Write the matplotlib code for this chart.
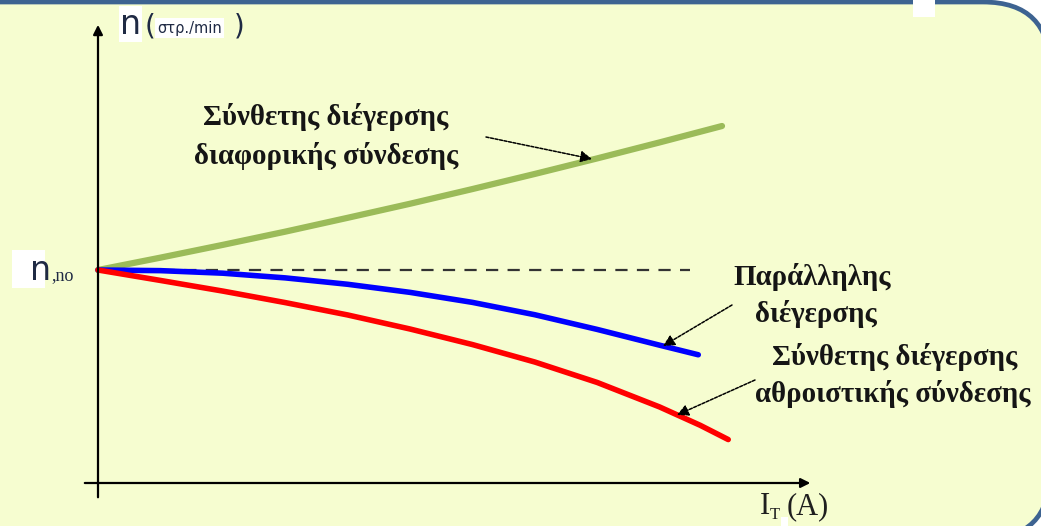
import numpy as np
import matplotlib
matplotlib.use("Agg")
import matplotlib.pyplot as plt
from matplotlib.patches import FancyBboxPatch, Rectangle

# ---- data (I in arbitrary units, n normalised to n0 = 1) ----
I_green = [0, 1, 2, 3, 4, 5, 6, 7, 8, 9, 10]
n_green = [1.000, 1.058, 1.118, 1.180, 1.245, 1.311, 1.380, 1.451, 1.524, 1.599, 1.676]

I_blue = [0, 1, 2, 3, 4, 5, 6, 7, 8, 9, 9.62]
n_blue = [1.000, 0.997, 0.985, 0.963, 0.933, 0.895, 0.848, 0.790, 0.721, 0.647, 0.602]

I_red = [0, 1, 2, 3, 4, 5, 6, 7, 8, 9, 9.65, 10.1]
n_red = [1.000, 0.951, 0.901, 0.847, 0.789, 0.723, 0.650, 0.568, 0.472, 0.357, 0.271, 0.204]

n0 = 1.0
I_dash_end = 9.49

W, H = 1041, 526
fig = plt.figure(figsize=(W / 100, H / 100), dpi=100)
fig.patch.set_facecolor("white")

# background panel (pixel coords)
bg = fig.add_axes([0, 0, 1, 1])
bg.set_xlim(0, W)
bg.set_ylim(H, 0)
bg.axis("off")
panel = FancyBboxPatch((-100, 2), 1150, 537, boxstyle="round,pad=0,rounding_size=67",
                       fc="#F6FDD0", ec="#3D6391", lw=3.4)
bg.add_patch(panel)
bg.add_patch(Rectangle((913, 0), 22, 17, fc="white", ec="none"))
bg.add_patch(Rectangle((12, 250), 33, 38, fc="white", ec="none"))

# data axes: origin sits at pixel (98, 483)
sx, sy = 62.4, 213.0
ax = fig.add_axes([0, 0, 1, 1])
ax.patch.set_alpha(0)
ax.set_xlim(-98 / sx, (W - 98) / sx)
ax.set_ylim((483 - H) / sy, 483 / sy)
ax.axis("off")

# axes with arrows
ax.annotate("", xy=(0, 2.164), xytext=(0, -0.08),
            arrowprops=dict(arrowstyle="-|>", color="black", lw=1.6, mutation_scale=14))
ax.annotate("", xy=(11.46, 0), xytext=(-0.256, 0),
            arrowprops=dict(arrowstyle="-|>", color="black", lw=1.6, mutation_scale=14))

ax.plot([0, I_dash_end], [n0, n0], color="#333333", lw=1.6, dashes=(5.5, 4.2))

ax.plot(I_green, n_green, color="#9BBB59", lw=4.5, solid_capstyle="round")
ax.plot(I_blue, n_blue, color="#0000FF", lw=4.0, solid_capstyle="round")
ax.plot(I_red, n_red, color="#FF0000", lw=4.0, solid_capstyle="round")


def px(x, y):
    return ((x - 98) / sx, (483 - y) / sy)


arrow_kw = dict(arrowstyle="-|>", color="black", lw=1.1, linestyle=(0, (2, 1)),
                mutation_scale=17, shrinkA=0, shrinkB=0)
ax.annotate("", xy=px(592, 159), xytext=px(486, 137), arrowprops=arrow_kw)
ax.annotate("", xy=px(663, 346), xytext=px(732, 305), arrowprops=arrow_kw)
ax.annotate("", xy=px(677, 415), xytext=px(755, 380), arrowprops=arrow_kw)

serif = dict(family="Liberation Serif", fontweight="bold", color="#151515", fontsize=20.8)
ax.text(*px(326, 117), "Σύνθετης διέγερσης", ha="center", va="center", **serif)
ax.text(*px(326, 156), "διαφορικής σύνδεσης", ha="center", va="center", **serif)
ax.text(*px(812, 277), "Παράλληλης", ha="center", va="center", **serif)
ax.text(*px(816, 314), "διέγερσης", ha="center", va="center", **serif)
ax.text(*px(895, 357), "Σύνθετης διέγερσης", ha="center", va="center", **serif)
ax.text(*px(893, 394), "αθροιστικής σύνδεσης", ha="center", va="center", **serif)

# axis labels
ax.text(*px(120, 24), "n", ha="left", va="center", fontsize=24, color="#1F2A44",
        family="DejaVu Sans", bbox=dict(fc="white", ec="none", pad=1))
ax.text(*px(145, 26), "(", ha="left", va="center", fontsize=20, color="#1F2A44", family="DejaVu Sans")
ax.text(*px(157, 28), "στρ./min", ha="left", va="center", fontsize=10.5, color="#1F2A44",
        family="DejaVu Sans", bbox=dict(fc="white", ec="none", pad=1.5))
ax.text(*px(234, 26), ")", ha="left", va="center", fontsize=20, color="#1F2A44", family="DejaVu Sans")

ax.text(*px(30, 270), "n", ha="left", va="center", fontsize=24, color="#1F2A44", family="DejaVu Sans")
ax.text(*px(51, 276), ",no", ha="left", va="center", fontsize=13, color="#1F2A44", family="Liberation Serif")

ax.text(*px(760, 507), "I", ha="left", va="center", fontsize=22, color="#1F1F1F", family="Liberation Serif")
ax.text(*px(770, 515), "T", ha="left", va="center", fontsize=12, color="#1F1F1F", family="Liberation Serif")
ax.text(*px(787, 507), "(A)", ha="left", va="center", fontsize=22, color="#1F1F1F", family="Liberation Serif")
bg.add_patch(Rectangle((781, 517), 7, 9, fc="white", ec="none", zorder=5))

fig.savefig("out.png", dpi=100, facecolor="white")
